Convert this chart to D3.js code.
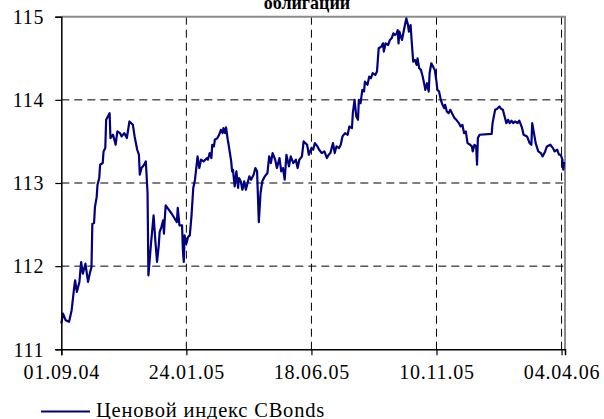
<!DOCTYPE html>
<html>
<head>
<meta charset="utf-8">
<script src="https://cdn.jsdelivr.net/npm/d3@7"></script>
<style>
  body { margin: 0; background: #fff; }
  svg text { font-family: "Liberation Serif", "Times New Roman", serif; fill: #000; }
</style>
</head>
<body>
<script>
// chart data
var title = "облигаций";
var seriesName = "Ценовой индекс CBonds";
var startDate = "01.09.04";
var endDate = "08.04.06";
var xTickLabels = ["01.09.04", "24.01.05", "18.06.05", "10.11.05", "04.04.06"];
var yTickValues = [111, 112, 113, 114, 115];

// days after 01.09.04
var days = [0, 2, 5, 9, 12, 15, 16, 18, 21, 23, 25, 28, 31, 33, 35, 36, 38, 39, 41, 42, 44, 45, 48, 49, 51, 52, 54, 56, 57, 60,
  63, 65, 68, 70, 73, 76, 79, 83, 85, 88, 90, 91, 93, 96, 98, 100, 101, 104, 107, 109, 111, 113, 114, 116, 118, 119, 120, 121, 128, 134,
  135, 137, 140, 141, 142, 143, 145, 147, 149, 151, 153, 155, 158, 160, 162, 165, 169, 170, 172, 174, 175, 177, 178, 181, 183, 185, 187, 188, 190, 191,
  193, 194, 197, 198, 199, 201, 203, 205, 206, 208, 210, 212, 214, 216, 218, 220, 223, 225, 227, 229, 231, 233, 236, 239, 241, 243, 245, 248, 250, 253,
  255, 257, 259, 261, 264, 266, 269, 272, 274, 276, 279, 281, 285, 287, 290, 292, 294, 297, 299, 302, 305, 308, 310, 312, 315, 317, 319, 322, 324, 326,
  329, 332, 334, 337, 338, 340, 342, 344, 345, 347, 349, 351, 352, 355, 357, 359, 361, 364, 366, 367, 368, 371, 373, 374, 376, 379, 381, 383, 385, 387,
  389, 390, 391, 392, 395, 398, 400, 402, 403, 405, 406, 408, 410, 412, 413, 415, 417, 419, 421, 422, 424, 426, 427, 429, 431, 433, 435, 436, 438, 440,
  442, 444, 445, 447, 449, 451, 453, 456, 458, 461, 463, 465, 467, 469, 471, 474, 476, 477, 479, 481, 482, 483, 485, 499, 500, 503, 505, 508, 510, 512,
  513, 516, 518, 520, 522, 524, 526, 529, 531, 534, 536, 540, 543, 545, 546, 548, 550, 553, 556, 558, 561, 563, 567, 570, 572, 575, 577, 579, 581, 582,
  583, 584];

var values = [111.31, 111.43, 111.35, 111.33, 111.47, 111.75, 111.83, 111.69, 111.81, 112.05, 111.91, 112.03, 111.81, 111.91, 111.99, 112.51, 112.52, 112.71, 112.83, 112.98, 113.06, 113.22, 113.24, 113.38, 113.42, 113.76, 113.80, 113.84, 113.54, 113.58,
  113.46, 113.62, 113.60, 113.56, 113.60, 113.54, 113.74, 113.70, 113.56, 113.40, 113.34, 113.10, 113.18, 113.22, 113.26, 112.88, 111.89, 112.27, 112.61, 112.31, 112.05, 112.25, 112.41, 112.47, 112.55, 112.39, 112.57, 112.73, 112.63, 112.53,
  112.70, 112.49, 112.49, 112.19, 112.05, 112.37, 112.27, 112.35, 112.37, 112.61, 112.94, 113.04, 113.32, 113.18, 113.28, 113.26, 113.30, 113.28, 113.36, 113.30, 113.46, 113.44, 113.52, 113.54, 113.58, 113.64, 113.60, 113.66, 113.60, 113.67,
  113.52, 113.46, 113.26, 113.14, 113.16, 112.96, 113.14, 112.94, 113.06, 113.02, 112.92, 113.02, 112.92, 113.00, 113.08, 113.04, 113.10, 113.18, 113.14, 112.53, 112.88, 113.02, 113.08, 113.12, 113.32, 113.24, 113.36, 113.28, 113.18, 113.30,
  113.14, 113.18, 113.04, 113.34, 113.20, 113.32, 113.24, 113.28, 113.18, 113.28, 113.32, 113.50, 113.46, 113.34, 113.42, 113.40, 113.48, 113.44, 113.40, 113.36, 113.38, 113.30, 113.34, 113.36, 113.48, 113.36, 113.44, 113.42, 113.46, 113.56,
  113.60, 113.58, 113.68, 113.66, 113.84, 114.00, 113.80, 113.76, 114.00, 113.96, 114.12, 114.10, 114.22, 114.18, 114.28, 114.26, 114.32, 114.30, 114.34, 114.48, 114.62, 114.64, 114.68, 114.58, 114.68, 114.66, 114.72, 114.74, 114.80, 114.78,
  114.80, 114.84, 114.68, 114.82, 114.72, 114.88, 114.98, 114.90, 114.82, 114.90, 114.74, 114.46, 114.48, 114.42, 114.50, 114.38, 114.36, 114.28, 114.18, 114.12, 114.20, 114.10, 114.32, 114.44, 114.40, 114.36, 114.22, 114.12, 114.10, 114.00,
  113.94, 113.90, 113.94, 113.86, 113.84, 113.88, 113.84, 113.78, 113.76, 113.72, 113.68, 113.70, 113.60, 113.62, 113.48, 113.46, 113.44, 113.38, 113.46, 113.44, 113.22, 113.54, 113.58, 113.59, 113.72, 113.88, 113.89, 113.92, 113.89, 113.88,
  113.84, 113.72, 113.76, 113.72, 113.75, 113.72, 113.74, 113.72, 113.75, 113.67, 113.58, 113.56, 113.48, 113.46, 113.72, 113.60, 113.48, 113.38, 113.36, 113.32, 113.38, 113.44, 113.46, 113.42, 113.38, 113.40, 113.34, 113.34, 113.28, 113.16,
  113.24, 113.24];

var width = 604, height = 419;
var plotLeft = 61.3, plotRight = 565, plotTop = 16.7, plotBottom = 349.3;

var parse = d3.timeParse("%d.%m.%y");
var t0 = parse(startDate);
var data = days.map(function(d, i) { return { date: d3.timeDay.offset(t0, d), value: values[i] }; });
var tickDates = xTickLabels.map(parse);

var x = d3.scaleTime()
    .domain([t0, parse(endDate)])
    .range([plotLeft, plotRight]);
var y = d3.scaleLinear()
    .domain([111, 115])
    .range([plotBottom, plotTop]);

var svg = d3.select("body").append("svg")
    .attr("width", width)
    .attr("height", height);

// gridlines
svg.append("g")
    .selectAll("line")
    .data(yTickValues.slice(1, -1))
  .enter().append("line")
    .attr("x1", plotLeft).attr("x2", plotRight)
    .attr("y1", function(d) { return y(d); })
    .attr("y2", function(d) { return y(d); })
    .attr("stroke", "#000")
    .attr("stroke-dasharray", "8,5");

svg.append("g")
    .selectAll("line")
    .data(tickDates.slice(1))
  .enter().append("line")
    .attr("x1", function(d) { return x(d); })
    .attr("x2", function(d) { return x(d); })
    .attr("y1", plotTop).attr("y2", plotBottom)
    .attr("stroke", "#000")
    .attr("stroke-dasharray", "8,5");

// plot area border (top / right)
svg.append("path")
    .attr("d", "M" + plotLeft + "," + plotTop + "H" + plotRight + "V" + plotBottom)
    .attr("fill", "none")
    .attr("stroke", "#8c8c8c")
    .attr("stroke-width", 2);

// the series
var line = d3.line()
    .x(function(d) { return x(d.date); })
    .y(function(d) { return y(d.value); });

svg.append("path")
    .datum(data)
    .attr("d", line)
    .attr("fill", "none")
    .attr("stroke", "#000080")
    .attr("stroke-width", 2.2)
    .attr("stroke-linejoin", "round");

// axes
var yAxis = d3.axisLeft(y)
    .tickValues(yTickValues)
    .tickFormat(d3.format("d"))
    .tickSize(6)
    .tickPadding(11);

var xAxis = d3.axisBottom(x)
    .tickValues(tickDates)
    .tickFormat(d3.timeFormat("%d.%m.%y"))
    .tickSize(6)
    .tickPadding(10);

var gy = svg.append("g")
    .attr("transform", "translate(" + plotLeft + ",0)")
    .call(yAxis);
var gx = svg.append("g")
    .attr("transform", "translate(0," + plotBottom + ")")
    .call(xAxis);

[gx, gy].forEach(function(g) {
  g.attr("font-family", null);
  g.select(".domain").attr("stroke", "#000").attr("stroke-width", 1.5);
  g.selectAll(".tick line").attr("stroke", "#000").attr("stroke-width", 1.2);
  g.selectAll(".tick text")
      .style("font-family", "'Liberation Serif', serif")
      .style("font-size", "20px")
      .style("letter-spacing", "0.8px")
      .attr("fill", "#000");
});
gy.selectAll(".tick text").attr("dy", "0.34em");

// title (cut at the top)
svg.append("text")
    .attr("x", 307)
    .attr("y", 9)
    .attr("text-anchor", "middle")
    .style("font-size", "18px")
    .style("font-weight", "bold")
    .text(title);

// legend
svg.append("line")
    .attr("x1", 41).attr("x2", 90)
    .attr("y1", 411.5).attr("y2", 411.5)
    .attr("stroke", "#000080")
    .attr("stroke-width", 2);

svg.append("text")
    .attr("x", 96)
    .attr("y", 417)
    .style("font-size", "20.5px")
    .style("letter-spacing", "0.8px")
    .text(seriesName);
</script>
</body>
</html>
